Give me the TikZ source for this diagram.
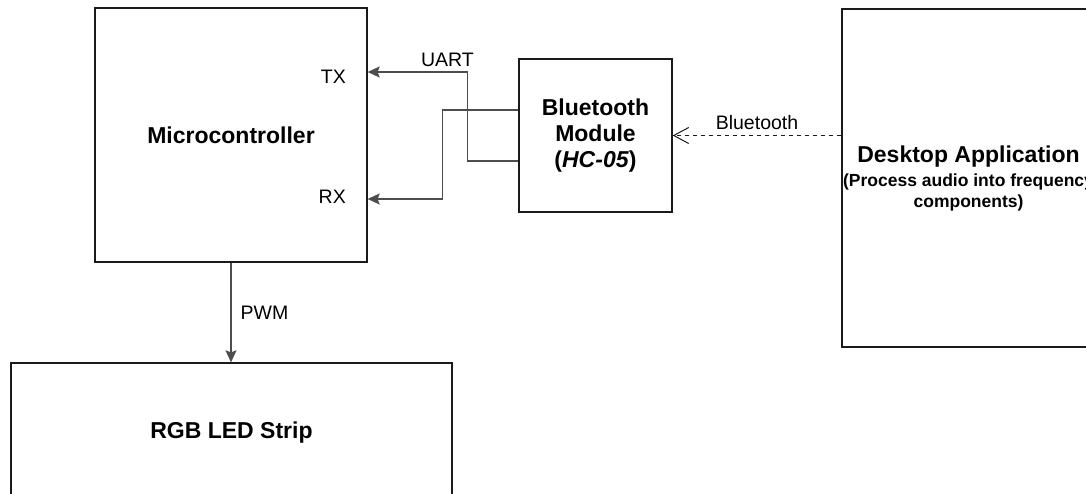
\documentclass[tikz,border=0pt]{standalone}
\usepackage{fontspec}
\setmainfont{Liberation Sans}
\usetikzlibrary{arrows.meta,calc}
\definecolor{edge}{HTML}{1A1A1A}
\definecolor{wire}{HTML}{4D4D4D}

\begin{document}
\begin{tikzpicture}[x=1pt,y=-1pt,  % 1 unit = 1 px, y runs down
  box/.style={draw=edge,line width=1.3pt,inner sep=0pt,align=center,
    font=\fontsize{23}{26}\selectfont\bfseries},
  lbl/.style={font=\fontsize{19.5}{23}\selectfont,inner sep=3pt},
  wire/.style={draw=wire,line width=1.3pt,-{Stealth[length=12pt,width=11pt,inset=2pt]}},
  radio/.style={draw=edge,line width=1pt,dash pattern=on 4pt off 4pt,
    -{Straight Barb[length=15pt,width=16pt]}}]
  \useasboundingbox (0,0) rectangle (1086,493);
  \clip (0,0) rectangle (1086,493);
  % ---- blocks
  \node[box,minimum width=272pt,minimum height=254pt] (mcu) at (231,135) {Microcontroller};
  \node[box,minimum width=153pt,minimum height=153pt] (bt) at (595.5,135.5)
    {Bluetooth\\Module\\(\textit{HC-05})};
  \node[box,minimum width=253pt,minimum height=338pt] (app) at (968.5,178)
    {Desktop Application\\[-2pt]{\fontsize{17.5}{21}\selectfont (Process audio into frequency}\\[-5pt]
     {\fontsize{17.5}{21}\selectfont components)}};
  \node[box,minimum width=441pt,minimum height=140pt] (rgb) at (231.5,433) {RGB LED Strip};
  % ---- pins
  \node[lbl,anchor=east] (tx) at (349,77) {TX};
  \node[lbl,anchor=east] (rx) at (349,197) {RX};
  \coordinate (txin) at ($(mcu.east)+(0,-63)$);
  \coordinate (rxin) at ($(mcu.east)+(0,64)$);
  % ---- links
  \draw[wire] ($(bt.west)+(0,25.5)$) -- ++(-51,0) |- (txin)
    node[lbl,above=2pt,pos=0.6] (uart) {UART};
  \draw[wire] ($(bt.west)+(0,-25.5)$) -- ++(-76,0) |- (rxin);
  \draw[wire] (mcu.south) -- node[lbl,right=6pt] (pwm) {PWM} (mcu.south |- rgb.north);
  \draw[radio] (app.west |- bt.east) -- node[lbl,above=2pt] (btlink) {Bluetooth} (bt.east);
\end{tikzpicture}
\end{document}
